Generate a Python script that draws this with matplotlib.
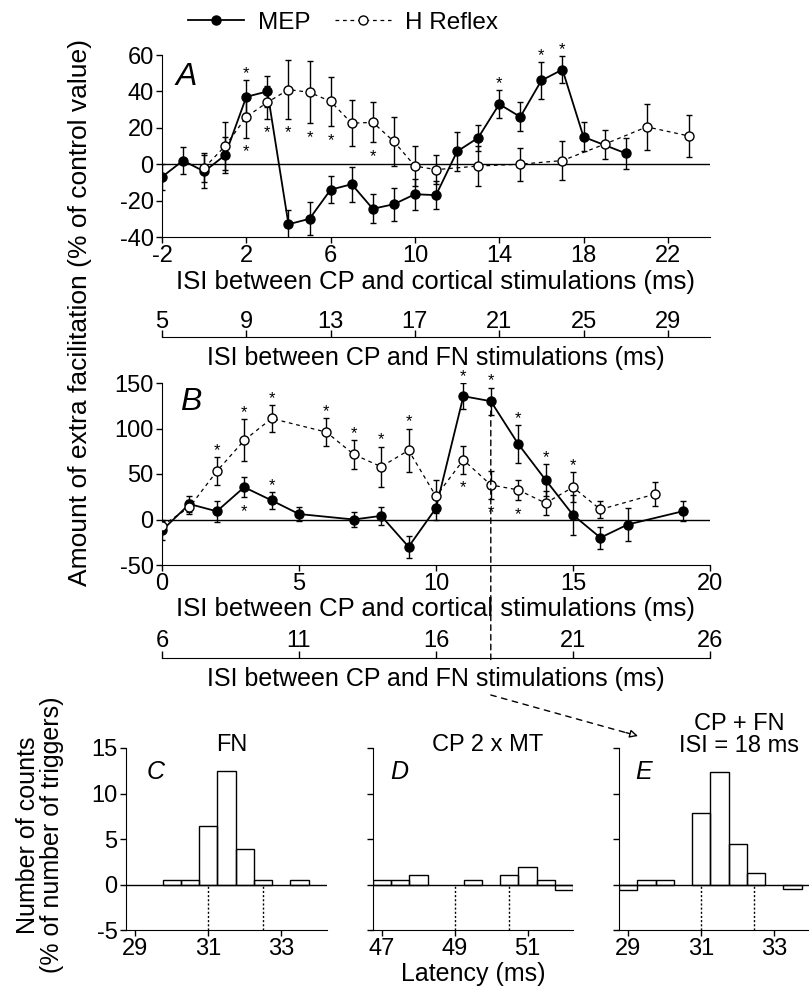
import matplotlib.pyplot as plt
import matplotlib.transforms as mtransforms
from matplotlib.lines import Line2D
from matplotlib.patches import ConnectionPatch
import numpy as np

plt.rcParams['font.family'] = ['Liberation Sans', 'DejaVu Sans']
plt.rcParams['axes.unicode_minus'] = False

# Panel A: ISI between CP and cortical stimulation (ms)
a_mep_x = [-2, -1, 0, 1, 2, 3, 4, 5, 6, 7, 8, 9, 10, 11, 12, 13, 14, 15, 16, 17, 18, 20]
a_mep_y = [-7, 2, -4, 5, 37, 40, -33, -30, -14, -11, -24.5, -22, -16.5, -17, 7, 14.5,
           33, 26, 46, 52, 15, 6]
a_mep_err = [7, 7.5, 9, 10, 9, 8.5, 8, 9, 7.5, 9.5, 8, 9, 8.5, 7.5, 10.5, 7,
             7.5, 8, 10, 7.5, 8, 8.5]
a_h_x = [0, 1, 2, 3, 4, 5, 6, 7, 8, 9, 10, 11, 13, 15, 17, 19, 21, 23]
a_h_y = [-2, 10, 26, 34, 41, 39.5, 34.5, 22.5, 23, 12.5, -1, -3, -1, 0, 2, 11, 20.5, 15.5]
a_h_err = [8, 13, 11.5, 9, 16, 17, 13.5, 12.5, 11, 13.5, 11, 8, 11, 9, 10.5, 8, 12.5, 11.5]
a_mep_star_up = [2, 14, 16, 17]
a_h_star_down = [2, 3, 4, 5, 6, 8]

# Panel B
b_mep_x = [0, 1, 2, 3, 4, 5, 7, 8, 9, 10, 11, 12, 13, 14, 15, 16, 17, 19]
b_mep_y = [-12, 17, 9, 35.5, 21, 6, 0, 4, -30, 12.5, 135.5, 130, 83, 43.5, 5, -20, -5.5, 9]
b_mep_err = [11, 9, 11.5, 11, 9.5, 8, 8, 9.5, 12, 13, 14, 15, 21, 17.5, 22, 12, 18, 11]
b_h_x = [0, 1, 2, 3, 4, 6, 7, 8, 9, 10, 11, 12, 13, 14, 15, 16, 18]
b_h_y = [-7, 13.5, 53, 87, 111, 96, 71.5, 58, 76, 25.5, 65.5, 38, 32.5, 18, 35.5, 11, 28]
b_h_err = [5, 8, 15.5, 23, 14.5, 15.5, 16, 22, 24, 18, 15, 15, 11, 13, 16.5, 9, 13]
b_mep_star_up = [4, 11, 12, 13, 14]
b_mep_star_down = [3]
b_h_star_up = [2, 3, 4, 6, 7, 8, 9, 15]
b_h_star_down = [11, 12, 13]
b_marked_isi = 12

# Panels C-E: histograms (% of number of triggers), 0.5 ms bins
c_bins = [29.5, 30, 30.5, 31, 31.5, 32, 32.5, 33, 33.5]
c_counts = [0, 0.5, 0.5, 6.4, 12.5, 3.9, 0.5, 0, 0.5]
c_window = [31, 32.5]
d_bins = [47, 47.5, 48, 48.5, 49, 49.5, 50, 50.5, 51, 51.5, 52]
d_counts = [0.5, 0.5, 1.0, 0, 0, 0.5, 0, 1.0, 1.9, 0.5, -0.6]
d_window = [49, 50.5]
e_bins = [29, 29.5, 30, 30.5, 31, 31.5, 32, 32.5, 33, 33.5]
e_counts = [-0.6, 0.5, 0.5, 0, 7.9, 12.4, 4.4, 1.3, 0, -0.5]
e_window = [31, 32.45]

W, H = 809, 997
fig = plt.figure(figsize=(W / 100, H / 100), dpi=100)


def px_axes(left, top, right, bottom):
    return fig.add_axes([left / W, 1 - bottom / H, (right - left) / W, (bottom - top) / H])


def plot_pair(ax, mx, my, me, hx, hy, he):
    ax.errorbar(mx, my, yerr=me, fmt='-o', color='black', mfc='black', mec='black',
                ms=6.5, lw=1.3, elinewidth=1, capsize=2.5, capthick=1, zorder=3)
    ax.errorbar(hx, hy, yerr=he, fmt='o', ls=(0, (3, 3)), color='black', mfc='white',
                mec='black', ms=6.5, lw=0.9, elinewidth=1, capsize=2.5, capthick=1, zorder=4)


def stars(ax, xs, ys, es, which, up):
    for x in which:
        i = xs.index(x)
        y = ys[i] + es[i] if up else ys[i] - es[i]
        ax.annotate('*', (x, y), xytext=(0, 1.5 if up else -13.5), textcoords='offset points',
                    ha='center', va='baseline', fontsize=12, annotation_clip=False)


def style_main(ax):
    ax.spines[['top', 'right']].set_visible(False)
    ax.tick_params(direction='out', length=4.5, width=1, labelsize=17, pad=1.5)
    ax.axhline(0, color='black', lw=1, zorder=1)


def fn_axis(top_px, lo, hi, ticks, pad, labelpad):
    ax = fig.add_axes([162 / W, 1 - top_px / H - 0.0005, 548 / W, 0.0005])
    ax.set_xlim(lo, hi)
    ax.set_yticks([])
    for s in ['left', 'right', 'bottom']:
        ax.spines[s].set_visible(False)
    ax.patch.set_visible(False)
    ax.xaxis.tick_top()
    ax.set_xticks(ticks)
    ax.tick_params(axis='x', direction='out', length=5, width=1, pad=pad, labelsize=17)
    ax.xaxis.set_label_position('bottom')
    ax.set_xlabel('ISI between CP and FN stimulations (ms)', fontsize=18, labelpad=labelpad)
    return ax


# ---- Panel A
axA = px_axes(162, 55, 710, 237)
plot_pair(axA, a_mep_x, a_mep_y, a_mep_err, a_h_x, a_h_y, a_h_err)
stars(axA, a_mep_x, a_mep_y, a_mep_err, a_mep_star_up, True)
stars(axA, a_h_x, a_h_y, a_h_err, a_h_star_down, False)
style_main(axA)
axA.set_xlim(-2, 24)
axA.set_ylim(-40, 60)
axA.set_xticks(range(-2, 23, 4))
axA.set_yticks(range(-40, 61, 20))
axA.set_xlabel('ISI between CP and cortical stimulations (ms)', fontsize=18.5, labelpad=2)
axA.text(0.024, 0.96, 'A', transform=axA.transAxes, fontsize=23, style='italic',
         ha='left', va='top')
fn_axis(337, -2 + 7, 24 + 7, range(5, 30, 4), -2, 6)

# ---- Panel B
axB = px_axes(162, 383, 710, 565)
plot_pair(axB, b_mep_x, b_mep_y, b_mep_err, b_h_x, b_h_y, b_h_err)
stars(axB, b_mep_x, b_mep_y, b_mep_err, b_mep_star_up, True)
stars(axB, b_mep_x, b_mep_y, b_mep_err, b_mep_star_down, False)
stars(axB, b_h_x, b_h_y, b_h_err, b_h_star_up, True)
stars(axB, b_h_x, b_h_y, b_h_err, b_h_star_down, False)
style_main(axB)
axB.set_xlim(0, 20)
axB.set_ylim(-50, 150)
axB.set_xticks(range(0, 21, 5))
axB.set_yticks(range(-50, 151, 50))
axB.set_xlabel('ISI between CP and cortical stimulations (ms)', fontsize=18.5, labelpad=1)
axB.text(0.033, 0.978, 'B', transform=axB.transAxes, fontsize=23, style='italic',
         ha='left', va='top')
fn_axis(658, 0 + 6, 20 + 6, range(6, 27, 5), -1, 6)

# dashed marker line from the ISI = 12 ms point down to the FN axis, then arrow to E
blend = mtransforms.blended_transform_factory(axB.transData, fig.transFigure)
mep_at_mark = b_mep_y[b_mep_x.index(b_marked_isi)]
fig.add_artist(ConnectionPatch(xyA=(b_marked_isi, mep_at_mark), coordsA=axB.transData,
                               xyB=(b_marked_isi, 1 - 663 / H), coordsB=blend,
                               color='black', lw=1, linestyle=(0, (4, 3))))
arrow_end = (638 / W, 1 - 736 / H)
fig.add_artist(ConnectionPatch(xyA=(b_marked_isi, 1 - 695 / H), coordsA=blend,
                               xyB=arrow_end, coordsB=fig.transFigure,
                               color='black', lw=1, linestyle=(0, (4, 4))))
fig.add_artist(ConnectionPatch(xyA=(626 / W, 1 - 732.6 / H), coordsA=fig.transFigure,
                               xyB=arrow_end, coordsB=fig.transFigure,
                               arrowstyle='-|>', mutation_scale=12, fc='white',
                               color='black', lw=1))

# ---- Panels C, D, E
hist_specs = [
    (126, 327, c_bins, c_counts, c_window, (28.75, 34.25), [29, 31, 33], 'C', 'FN', 0.104),
    (373, 573, d_bins, d_counts, d_window, (46.75, 52.25), [47, 49, 51], 'D', 'CP 2 x MT', 0.085),
    (619, 820, e_bins, e_counts, e_window, (28.75, 34.25), [29, 31, 33], 'E',
     'CP + FN\nISI = 18 ms', 0.08),
]
hist_axes = []
for left, right, bins, counts, window, xlim, xt, letter, title, lx in hist_specs:
    ax = px_axes(left, 748, right, 930)
    bins = np.array(bins)
    counts = np.array(counts)
    keep = counts != 0
    ax.bar(bins[keep], counts[keep], width=0.5, fill=False, edgecolor='black', lw=1, zorder=2)
    ax.vlines(window, -5, 0, colors='black', linestyles=(0, (1.5, 1.5)), lw=1)
    ax.axhline(0, color='black', lw=1, zorder=1)
    ax.set_xlim(*xlim)
    ax.set_ylim(-5, 15)
    ax.set_xticks(xt)
    ax.set_yticks(range(-5, 16, 5))
    ax.spines[['top', 'right']].set_visible(False)
    ax.tick_params(direction='out', length=4.5, width=1, labelsize=17, pad=1.5)
    if letter != 'C':
        ax.set_yticklabels([])
    ax.text(lx, 0.934, letter, transform=ax.transAxes, fontsize=18, style='italic',
            ha='left', va='top')
    if letter == 'E':
        ax.text(0.597, 1.07, title, transform=ax.transAxes, fontsize=17, ha='center',
                va='center', linespacing=1.0)
    else:
        ax.text(0.527 if letter == 'C' else 0.575, 1.016, title, transform=ax.transAxes,
                fontsize=17, ha='center', va='center')
    hist_axes.append(ax)

hist_axes[1].set_xlabel('Latency (ms)', fontsize=18, labelpad=1)

# shared y labels
fig.text(80 / W, 1 - 312 / H, 'Amount of extra facilitation (% of control value)',
         rotation=90, ha='center', va='center', fontsize=19)
fig.text(40 / W, 1 - 835 / H, 'Number of counts\n(% of number of triggers)',
         rotation=90, ha='center', va='center', fontsize=18, linespacing=1.05)

# legend
handles = [Line2D([], [], color='black', lw=1.3, marker='o', ms=6.5, mfc='black'),
           Line2D([], [], color='black', lw=0.9, ls=(0, (3, 3)), marker='o', ms=6.5,
                  mfc='white')]
fig.legend(handles, ['MEP', 'H Reflex'], loc='center', bbox_to_anchor=(343 / W, 1 - 23 / H),
           ncol=2, frameon=False, fontsize=17.5, handlelength=2.3, handletextpad=0.6,
           columnspacing=1.0)

fig.savefig('out.png', dpi=100)
